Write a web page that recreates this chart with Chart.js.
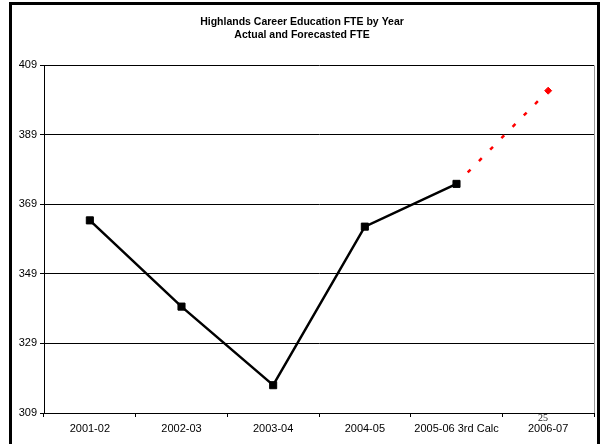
<!DOCTYPE html>
<html>
<head>
<meta charset="utf-8">
<script src="https://cdn.jsdelivr.net/npm/chart.js@4/dist/chart.umd.min.js"></script>
<style>
    body { margin: 0; background: #fff; }
    #wrap { position: relative; width: 600px; height: 444px; overflow: hidden; }
    #frame { position: absolute; left: 9px; top: 2px; width: 585px; height: 460px; border: 3px solid #000; }
    #chart { position: absolute; left: 0; top: 0; }
    #pageNo { position: absolute; left: 538px; top: 412px; font: 10px "Liberation Serif", serif; color: #222; }
</style>
</head>
<body>
<div id="wrap">
    <div id="frame"></div>
    <canvas id="chart" width="600" height="444"></canvas>
    <div id="pageNo">25</div>
</div>
<script>
const years = ['2001-02', '2002-03', '2003-04', '2004-05', '2005-06 3rd Calc', '2006-07'];
const actualFte = [364.4, 339.6, 317, 362.6, 374.9, null];
const forecastFte = [null, null, null, null, 374.9, 401.7];
const yTicks = [309, 329, 349, 369, 389, 409];

// grey right edge of the plot area
const plotEdge = {
    id: 'plotEdge',
    afterDraw(chart) {
        const { ctx, chartArea } = chart;
        ctx.save();
        ctx.strokeStyle = '#999';
        ctx.lineWidth = 1;
        ctx.beginPath();
        ctx.moveTo(chartArea.right + 0.5, chartArea.top);
        ctx.lineTo(chartArea.right + 0.5, chartArea.bottom);
        ctx.stroke();
        ctx.restore();
    }
};

document.addEventListener("DOMContentLoaded", function () {
    const ctx = document.getElementById('chart').getContext('2d');
    new Chart(ctx, {
        type: 'line',
        data: {
            labels: years,
            datasets: [
                {
                    label: 'Actual',
                    data: actualFte,
                    borderColor: '#000',
                    backgroundColor: '#000',
                    borderWidth: 2.5,
                    pointStyle: 'rect',
                    pointRadius: 5,
                    pointBorderWidth: 1,
                    tension: 0
                },
                {
                    label: 'Forecast',
                    data: forecastFte,
                    borderColor: '#ff0000',
                    backgroundColor: '#ff0000',
                    borderWidth: 2.5,
                    borderDash: [4, 12],
                    pointStyle: 'rectRot',
                    pointRadius: [0, 0, 0, 0, 0, 3.5],
                    pointBorderWidth: 1,
                    tension: 0
                }
            ]
        },
        options: {
            responsive: false,
            animation: false,
            layout: { padding: { left: 10, right: 6, top: 0, bottom: 0 } },
            plugins: {
                legend: { display: false },
                tooltip: { enabled: false },
                title: {
                    display: true,
                    text: ['Highlands Career Education FTE by Year', 'Actual and Forecasted FTE'],
                    color: '#000',
                    font: { family: 'Liberation Sans', size: 10.5, weight: 'bold', lineHeight: 1.3 },
                    padding: { top: 15, bottom: 23 }
                }
            },
            scales: {
                x: {
                    offset: true,
                    grid: { offset: true, drawOnChartArea: false, drawTicks: true, tickLength: 4, color: '#000' },
                    border: { color: '#000', width: 1 },
                    ticks: { color: '#000', padding: 5, maxRotation: 0, autoSkip: false,
                        font: { family: 'Liberation Sans', size: 11 } },
                    afterFit(scale) { scale.height = 31; }
                },
                y: {
                    min: 309,
                    max: 409,
                    afterBuildTicks(scale) { scale.ticks = yTicks.map(v => ({ value: v })); },
                    grid: { color: '#000', lineWidth: 1, tickLength: 4 },
                    border: { color: '#000', width: 1 },
                    ticks: { color: '#000', padding: 3,
                        font: { family: 'Liberation Sans', size: 11 } },
                    afterFit(scale) { scale.width = 34; }
                }
            }
        },
        plugins: [plotEdge]
    });
});
</script>
</body>
</html>
